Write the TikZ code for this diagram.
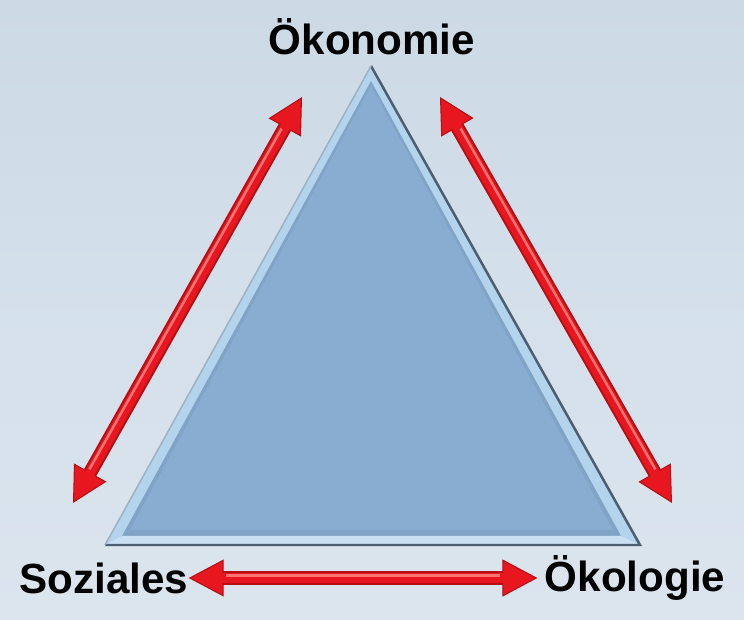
\documentclass[tikz,border=0pt]{standalone}
\usepackage{fontspec}
\setmainfont{Liberation Sans}
\usetikzlibrary{arrows.meta,calc,positioning}
\definecolor{bgtop}{HTML}{CCDAE6}
\definecolor{bgbot}{HTML}{DCE5EE}
\definecolor{trimain}{HTML}{88ADD0}
\definecolor{trilight}{HTML}{B4D3EC}
\definecolor{triedge}{HTML}{4C5E70}
\definecolor{arrred}{HTML}{E8161E}
\definecolor{arrdark}{HTML}{B30F14}
\tikzset{lbl/.style={font=\bfseries\fontsize{24}{29}\selectfont,inner sep=0pt},
  dblarr/.style={{Triangle[length=0.7cm,width=0.74cm,fill=arrred,line width=0.6pt]}-{Triangle[length=0.7cm,width=0.74cm,fill=arrred,line width=0.6pt]},line width=0.28cm,draw=arrdark},
  dblin/.style={line width=0.2cm,draw=arrred},
  glint/.style={line width=0.05cm,draw=red!55!white}}

\begin{document}
\begin{tikzpicture}[x=0.02cm,y=0.02cm]
\shade[top color=bgtop,bottom color=bgbot] (0,0) rectangle (744,619);
\useasboundingbox (0,0) rectangle (744,619);
% triangle with bevel
\coordinate (top) at (371,553); \coordinate (bl) at (105,74); \coordinate (br) at (640,74);
\fill[trilight] (top)--(bl)--(br)--cycle;
\fill[trimain!95!black] (371,538)--(122,83)--(621,83)--cycle;
\fill[trimain] (371,533)--(130,89)--(613,89)--cycle;
\fill[trilight!70!white] (bl)--(br)--(621,83)--(122,83)--cycle;
\draw[triedge,line width=0.05cm] (top)--(br)--(bl);
\draw[trilight!60!gray,line width=0.03cm] (top)--(bl);
% labels
\node[lbl] (oekon) at (372,582){Ökonomie};
\node[lbl] (sozi) at (104,41){Soziales};
\node[lbl] (oekol) at (635,41){Ökologie};
\coordinate (lt) at (302,522); \coordinate (lb) at (73,116);
\coordinate (rt) at (440,522); \coordinate (rb) at (672,116);
% arrows
\draw[dblarr] (lb)--(lt); \draw[dblarr] (rt)--(rb);
\draw[dblarr] (sozi.east)--([xshift=-4pt]oekol.west);
\draw[dblin,shorten <=0.66cm,shorten >=0.66cm] (lb)--(lt);
\draw[dblin,shorten <=0.66cm,shorten >=0.66cm] (rt)--(rb);
\draw[dblin,shorten <=0.66cm,shorten >=0.66cm] (sozi.east)--([xshift=-4pt]oekol.west);
\draw[glint,shorten <=0.75cm,shorten >=0.75cm] ($(lb)+(-2,1)$)--($(lt)+(-2,1)$);
\draw[glint,shorten <=0.75cm,shorten >=0.75cm] ($(rt)+(2,1)$)--($(rb)+(2,1)$);
\draw[glint,shorten <=0.75cm,shorten >=0.75cm] ([yshift=1.5pt]sozi.east)--([xshift=-4pt,yshift=1.5pt]oekol.west);
\end{tikzpicture}
\end{document}
